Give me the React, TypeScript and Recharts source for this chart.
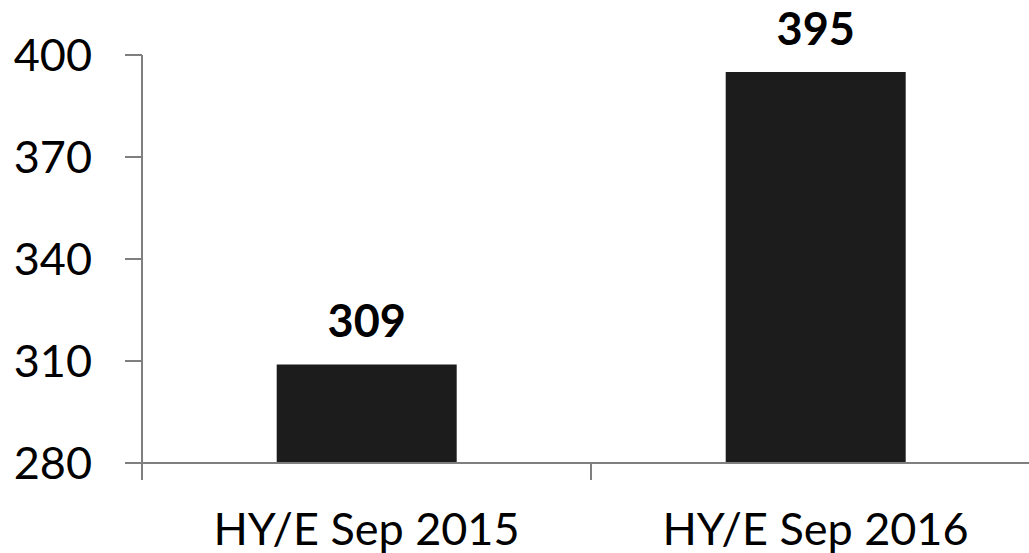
import { BarChart, Bar, XAxis, YAxis, LabelList } from 'recharts';

const categories = ['HY/E Sep 2015', 'HY/E Sep 2016'];
const values = [309, 395];
const yTicks = [280, 310, 340, 370, 400];
const edgeTicks = [0, 1, 2];

const data = categories.map((name, i) => ({ name, value: values[i], edge: i }));

const font = 'Lato, "Open Sans", sans-serif';
const axisColor = '#7f7f7f';

export default function App() {
  return (
    <div
      style={{
        position: 'fixed',
        left: 0,
        top: 0,
        width: 1029,
        height: 553,
        overflow: 'hidden',
        background: '#fff',
      }}
    >
      <BarChart
        width={1040}
        height={553}
        data={data}
        margin={{ top: 55, right: 0, bottom: 0, left: 0 }}
        barCategoryGap="30%"
        style={{ fontFamily: font }}
      >
        {/* band edge ticks + the axis line itself (id 0 sits next to the plot) */}
        <XAxis
          xAxisId={0}
          type="number"
          dataKey="edge"
          domain={[0, 2]}
          allowDataOverflow
          ticks={edgeTicks}
          interval={0}
          tickSize={17}
          tickFormatter={() => ''}
          tick={{ fill: 'transparent', fontSize: 1 }}
          axisLine={{ stroke: axisColor, strokeWidth: 2 }}
          tickLine={{ stroke: axisColor, strokeWidth: 2 }}
          height={17}
        />
        <XAxis
          xAxisId="cat"
          dataKey="name"
          tickLine={false}
          axisLine={false}
          tick={{ fill: '#000', fontSize: 45, fontFamily: font }}
          tickMargin={27}
          height={73}
        />
        <YAxis
          domain={[280, 400]}
          ticks={yTicks}
          interval={0}
          width={142}
          tickSize={17}
          tickMargin={33}
          axisLine={{ stroke: axisColor, strokeWidth: 2 }}
          tickLine={{ stroke: axisColor, strokeWidth: 2 }}
          tick={{ fill: '#000', fontSize: 45, fontFamily: font }}
        />
        <Bar xAxisId="cat" dataKey="value" fill="#1c1c1c" isAnimationActive={false}>
          <LabelList
            dataKey="value"
            position="top"
            offset={27}
            style={{ fill: '#000', fontSize: 45, fontWeight: 700, fontFamily: font }}
          />
        </Bar>
      </BarChart>
    </div>
  );
}
